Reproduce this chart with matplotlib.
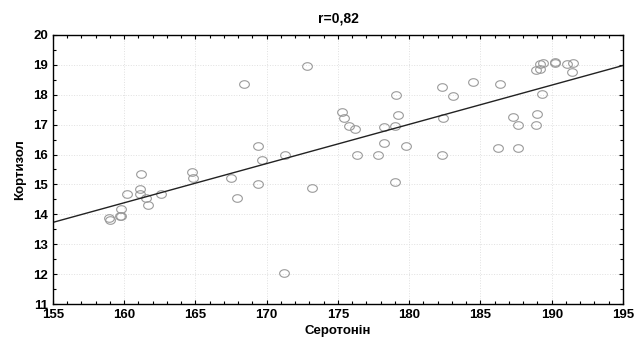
import numpy as np
import matplotlib
matplotlib.use('Agg')
import matplotlib.pyplot as plt
from matplotlib.ticker import MultipleLocator
from matplotlib.path import Path

plt.rcParams['font.family'] = ['Liberation Sans', 'DejaVu Sans']

# Serotonin (x) and cortisol (y) values
serotonin = [158.9, 159.0, 159.7, 159.8, 159.8, 160.2, 161.2, 161.1, 161.1, 161.5,
             161.7, 162.6, 164.75, 164.8, 167.5, 167.9, 168.4, 169.4, 169.7, 169.4,
             171.3, 171.2, 172.8, 173.2, 175.3, 175.4, 175.8, 176.2, 176.3, 177.8,
             178.2, 178.2, 179.0, 179.2, 179.1, 179.8, 179.0, 182.3, 182.4, 182.3,
             183.1, 184.5, 186.4, 186.2, 187.3, 187.6, 187.6, 188.9, 189.0, 189.3,
             188.9, 189.2, 189.2, 189.4, 190.2, 190.2, 191.1, 191.5, 191.4]
cortisol = [13.89, 13.82, 13.95, 13.95, 14.19, 14.69, 15.36, 14.86, 14.69, 14.56,
            14.32, 14.69, 15.40, 15.23, 15.23, 14.56, 18.35, 16.30, 15.83, 15.00,
            16.00, 12.04, 18.95, 14.89, 17.44, 17.21, 16.94, 16.84, 16.00, 16.00,
            16.40, 16.91, 16.94, 17.31, 17.98, 16.30, 15.09, 18.25, 17.21, 16.00,
            17.95, 18.42, 18.35, 16.23, 17.24, 17.00, 16.23, 17.00, 17.34, 18.01,
            18.82, 18.85, 19.02, 19.05, 19.09, 19.05, 19.02, 19.05, 18.75]

# slightly flattened circle, like the original markers
t = np.linspace(0, 2 * np.pi, 40)
ellipse = Path(np.column_stack([np.cos(t), 0.78 * np.sin(t)]), closed=True)

fig = plt.figure(figsize=(6.37, 3.43), dpi=100)
ax = fig.add_axes([0.0832, 0.1137, 0.8948, 0.7843])

ax.plot(serotonin, cortisol, linestyle='none', marker=ellipse, mfc='none',
        mec='#9a9a9a', ms=7, mew=0.8)

# linear fit
slope, intercept = np.polyfit(serotonin, cortisol, 1)
xs = np.array([155, 195])
ax.plot(xs, intercept + slope * xs, color='#222222', lw=1.0)

ax.set_xlim(155, 195)
ax.set_ylim(11, 20)
ax.xaxis.set_major_locator(MultipleLocator(5))
ax.xaxis.set_minor_locator(MultipleLocator(1))
ax.yaxis.set_major_locator(MultipleLocator(1))
ax.yaxis.set_minor_locator(MultipleLocator(0.5))
ax.tick_params(which='both', direction='in', top=True, right=True, width=0.8)
ax.tick_params(which='major', length=3, labelsize=9.5)
ax.tick_params(which='minor', length=2)
for lbl in ax.get_xticklabels() + ax.get_yticklabels():
    lbl.set_fontweight('bold')
ax.grid(True, which='major', ls=':', color='#e0e0e0', lw=0.7)
for s in ax.spines.values():
    s.set_linewidth(1.0)

ax.set_xlabel('Серотонін', fontsize=9.5, fontweight='bold', labelpad=3)
ax.set_ylabel('Кортизол', fontsize=9.5, fontweight='bold', labelpad=5)
ax.set_title('r=0,82', fontsize=10, fontweight='bold', pad=9)

fig.savefig('out.png', dpi=100)
